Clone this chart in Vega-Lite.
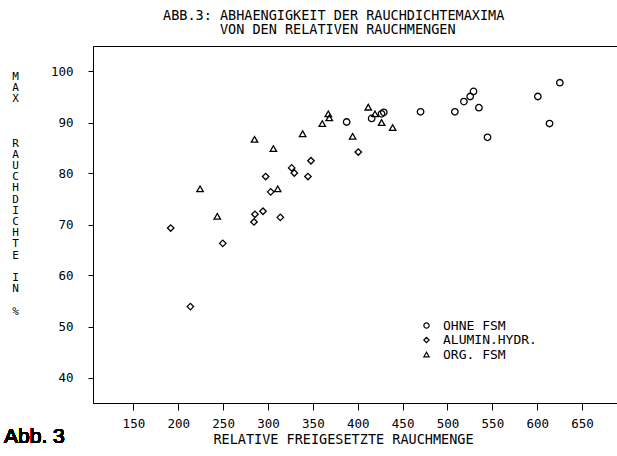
{
  "$schema": "https://vega.github.io/schema/vega-lite/v6.json",
  "autosize": {"type": "none"},
  "padding": {"left": 93, "top": 46, "right": 0, "bottom": 53},
  "width": 525,
  "height": 357,
  "background": "white",
  "title": {
    "text": ["ABB.3: ABHAENGIGKEIT DER RAUCHDICHTEMAXIMA", "\u200b\u00a0\u00a0\u00a0\u00a0\u00a0\u00a0\u00a0VON DEN RELATIVEN RAUCHMENGEN"],
    "anchor": "start",
    "frame": "group",
    "dx": 70,
    "offset": 10,
    "font": "DejaVu Sans Mono",
    "fontSize": 13.5,
    "fontWeight": "normal",
    "color": "black",
    "lineHeight": 13.5
  },
  "config": {
    "view": {"stroke": "black", "strokeWidth": 1},
    "axis": {
      "domainColor": "black",
      "tickColor": "black",
      "labelColor": "black",
      "titleColor": "black",
      "labelFont": "DejaVu Sans Mono",
      "titleFont": "DejaVu Sans Mono",
      "labelFontSize": 12.5,
      "titleFontSize": 13.5,
      "titleFontWeight": "normal",
      "grid": false
    },
    "legend": {
      "labelFont": "DejaVu Sans Mono",
      "labelFontSize": 13,
      "labelColor": "black"
    }
  },
  "data": {
    "values": [
      {"g": "OHNE FSM", "x": 387.6, "y": 90.1},
      {"g": "OHNE FSM", "x": 415.5, "y": 90.8},
      {"g": "OHNE FSM", "x": 426.5, "y": 91.7},
      {"g": "OHNE FSM", "x": 429.0, "y": 92.0},
      {"g": "OHNE FSM", "x": 470.0, "y": 92.1},
      {"g": "OHNE FSM", "x": 508.2, "y": 92.1},
      {"g": "OHNE FSM", "x": 518.3, "y": 94.1},
      {"g": "OHNE FSM", "x": 525.3, "y": 95.1},
      {"g": "OHNE FSM", "x": 529.0, "y": 96.1},
      {"g": "OHNE FSM", "x": 535.0, "y": 92.9},
      {"g": "OHNE FSM", "x": 544.6, "y": 87.1},
      {"g": "OHNE FSM", "x": 600.7, "y": 95.1},
      {"g": "OHNE FSM", "x": 613.7, "y": 89.8},
      {"g": "OHNE FSM", "x": 625.2, "y": 97.8},
      {"g": "ALUMIN.HYDR.", "x": 191.6, "y": 69.3},
      {"g": "ALUMIN.HYDR.", "x": 213.5, "y": 53.9},
      {"g": "ALUMIN.HYDR.", "x": 249.6, "y": 66.3},
      {"g": "ALUMIN.HYDR.", "x": 284.4, "y": 70.5},
      {"g": "ALUMIN.HYDR.", "x": 285.5, "y": 72.0},
      {"g": "ALUMIN.HYDR.", "x": 294.4, "y": 72.6},
      {"g": "ALUMIN.HYDR.", "x": 297.4, "y": 79.4},
      {"g": "ALUMIN.HYDR.", "x": 303.0, "y": 76.4},
      {"g": "ALUMIN.HYDR.", "x": 313.7, "y": 71.4},
      {"g": "ALUMIN.HYDR.", "x": 326.4, "y": 81.1},
      {"g": "ALUMIN.HYDR.", "x": 329.3, "y": 80.1},
      {"g": "ALUMIN.HYDR.", "x": 344.5, "y": 79.4},
      {"g": "ALUMIN.HYDR.", "x": 347.9, "y": 82.5},
      {"g": "ALUMIN.HYDR.", "x": 400.6, "y": 84.2},
      {"g": "ORG. FSM", "x": 224.3, "y": 77.0},
      {"g": "ORG. FSM", "x": 243.5, "y": 71.6},
      {"g": "ORG. FSM", "x": 285.0, "y": 86.7},
      {"g": "ORG. FSM", "x": 306.0, "y": 84.9},
      {"g": "ORG. FSM", "x": 310.8, "y": 77.0},
      {"g": "ORG. FSM", "x": 338.6, "y": 87.8},
      {"g": "ORG. FSM", "x": 360.5, "y": 89.8},
      {"g": "ORG. FSM", "x": 367.2, "y": 91.7},
      {"g": "ORG. FSM", "x": 368.3, "y": 90.9},
      {"g": "ORG. FSM", "x": 394.3, "y": 87.3},
      {"g": "ORG. FSM", "x": 411.7, "y": 93.0},
      {"g": "ORG. FSM", "x": 419.2, "y": 91.7},
      {"g": "ORG. FSM", "x": 426.6, "y": 90.0},
      {"g": "ORG. FSM", "x": 438.9, "y": 89.0}
    ]
  },
  "layer": [
    {
      "mark": {"type": "point", "filled": false, "color": "black", "strokeWidth": 1.3, "size": 42, "opacity": 1},
      "encoding": {
        "x": {
          "field": "x", "type": "quantitative",
          "scale": {"domain": [105, 690], "nice": false, "zero": false},
          "axis": {
            "title": "RELATIVE FREIGESETZTE RAUCHMENGE",
            "values": [150, 200, 250, 300, 350, 400, 450, 500, 550, 600, 650],
            "tickSize": 7,
            "labelPadding": 7,
            "labelBaseline": "top",
            "titleX": 250,
            "titleY": 36,
            "titleAlign": "center",
            "titleBaseline": "middle"
          }
        },
        "y": {
          "field": "y", "type": "quantitative",
          "scale": {"domain": [35, 105], "nice": false, "zero": false},
          "axis": {
            "title": ["M", "A", "X", "\u200b", "\u200b", "\u200b", "R", "A", "U", "C", "H", "D", "I", "C", "H", "T", "E", "\u200b", "I", "N", "\u200b", "%"],
            "titleAngle": 0,
            "titleAlign": "center",
            "titleBaseline": "top",
            "titleX": -78,
            "titleY": 24,
            "titleFontSize": 11,
            "titleLineHeight": 11.2,
            "values": [40, 50, 60, 70, 80, 90, 100],
            "tickSize": 5,
            "labelPadding": 15
          }
        },
        "shape": {
          "field": "g", "type": "nominal",
          "scale": {"domain": ["OHNE FSM", "ALUMIN.HYDR.", "ORG. FSM"], "range": ["circle", "diamond", "triangle-up"]},
          "legend": {
            "title": null,
            "orient": "none",
            "legendX": 327,
            "legendY": 273,
            "padding": 0,
            "symbolSize": 28,
            "symbolStrokeColor": "black",
            "symbolStrokeWidth": 1.2,
            "symbolFillColor": "transparent",
            "labelOffset": 10,
            "rowPadding": 0.5
          }
        }
      }
    },
    {
      "mark": {"type": "text", "font": "Liberation Sans", "fontSize": 21, "fontWeight": "normal", "align": "left", "baseline": "middle", "fill": "black", "strokeWidth": 0},
      "encoding": {
        "x": {"datum": 5.9, "type": "quantitative"},
        "y": {"datum": 28.3, "type": "quantitative"},
        "text": {"value": "Abb. 3"}
      }
    }
  ]
}
